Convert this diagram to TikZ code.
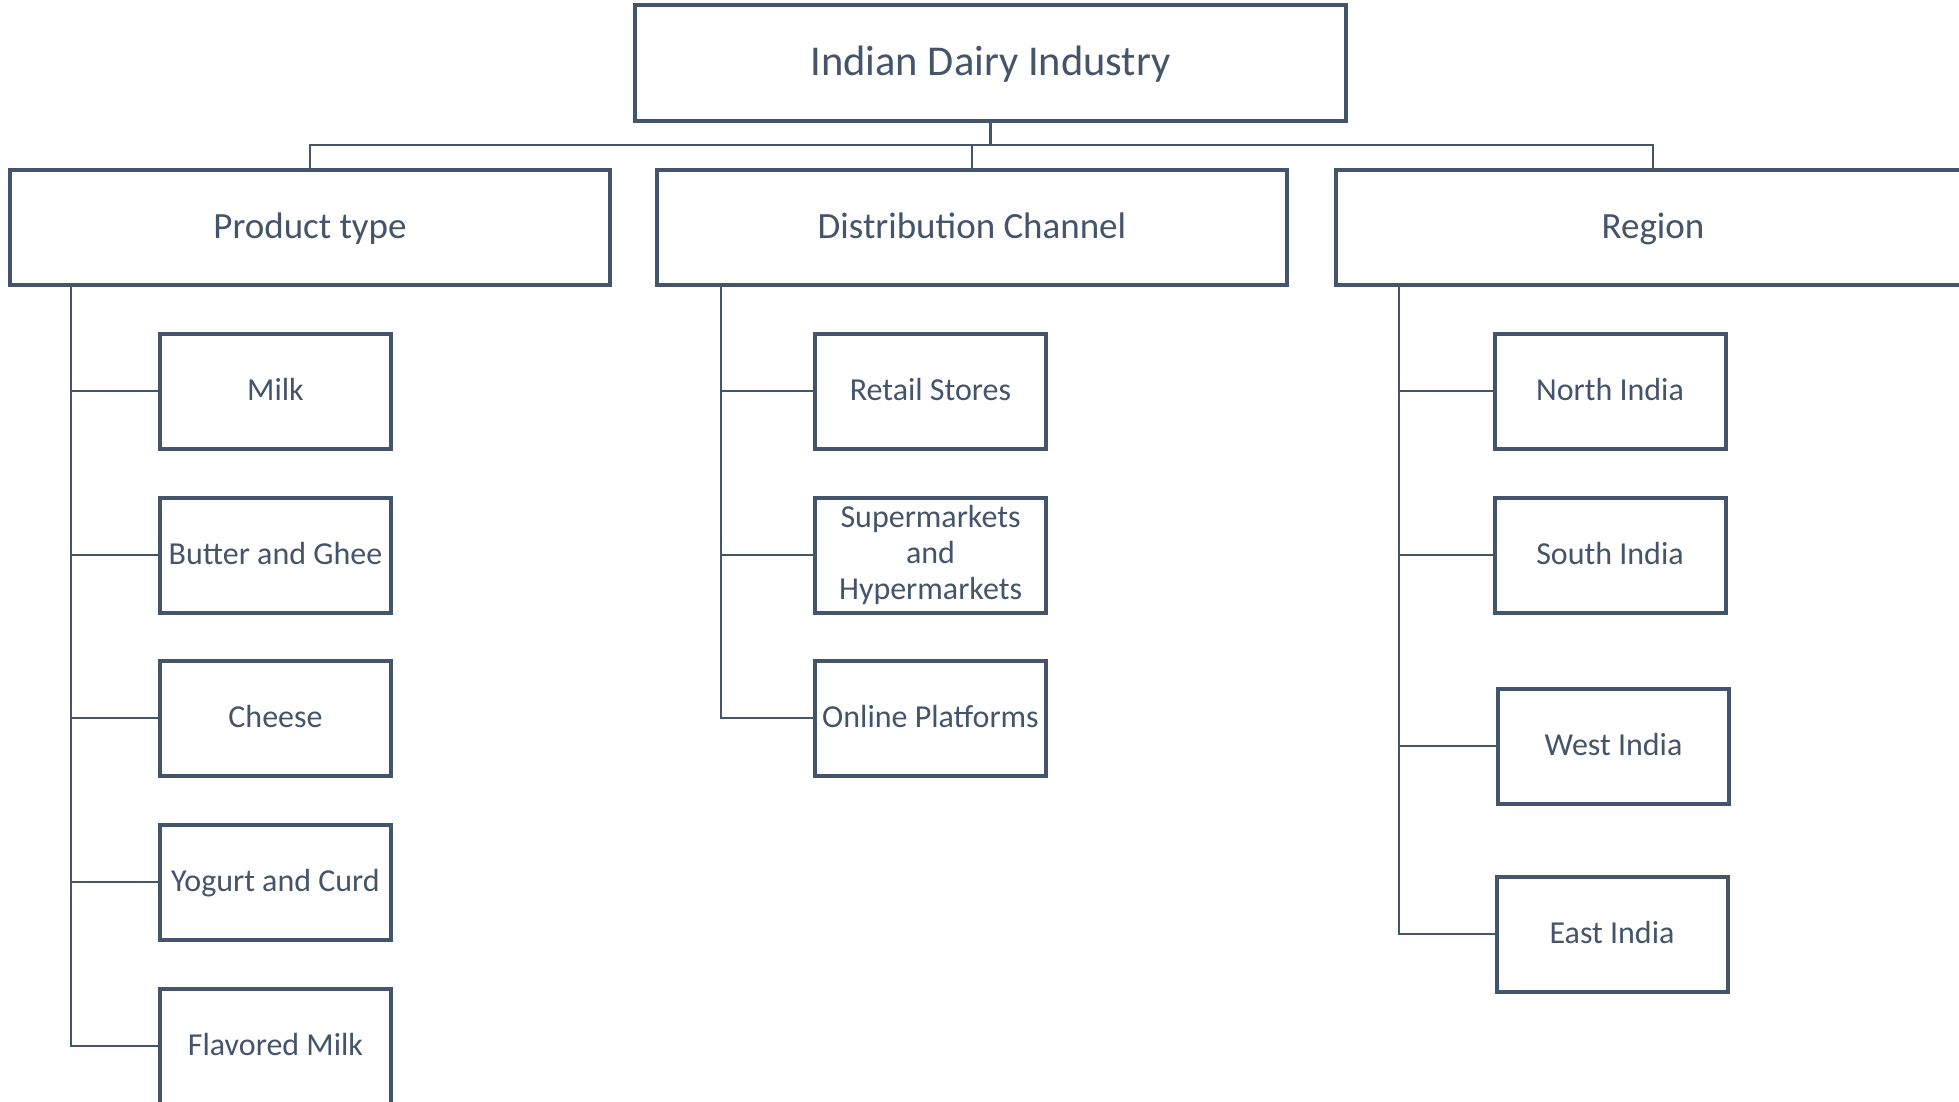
\documentclass[tikz,border=0pt]{standalone}
\usepackage{fontspec}
\setmainfont{Carlito}
\definecolor{slate}{HTML}{44546A}
\begin{document}
\begin{tikzpicture}[x=1pt,y=-1pt,
  box/.style={draw=slate, line width=4pt, fill=white, text=slate, inner sep=0pt},
  topbox/.style={box, text height=34pt, text depth=8.5pt, minimum width=711pt, minimum height=116pt, font=\fontsize{42.5}{48}\selectfont},
  catbox/.style={box, text height=29.6pt, text depth=7.4pt, minimum height=115pt, font=\fontsize{37}{42}\selectfont},
  leafbase/.style={box, minimum width=231pt, minimum height=115pt, font=\fontsize{32}{35.6}\selectfont},
  leafbox/.style={leafbase, text height=25.6pt, text depth=6.4pt},
  conn/.style={draw=slate, line width=2.5pt}]
\useasboundingbox (0,0) rectangle (1959,1102);
\clip (0,0) rectangle (1959,1102);
\fill[white] (0,0) rectangle (1959,1102);

\coordinate (bus) at (990.5,145);
\coordinate (pv) at (71,287);
\coordinate (dv) at (721,287);
\coordinate (rv) at (1399,287);

\node[topbox] (top) at (990.5,63) {Indian Dairy Industry};

\node[catbox, minimum width=600pt] (prod) at (310,227.5) {Product type};
\node[catbox, minimum width=630pt] (dist) at (972,227.5) {Distribution Channel};
\node[catbox, minimum width=635pt] (reg) at (1653,227.5) {Region};

\node[leafbox] (milk) at (275.5,391) {Milk};
\node[leafbox] (butter) at (275.5,555) {Butter and Ghee};
\node[leafbox] (cheese) at (275.5,718) {Cheese};
\node[leafbox] (yogurt) at (275.5,882) {Yogurt and Curd};
\node[leafbox] (flav) at (275.5,1046) {Flavored Milk};

\node[leafbox] (retail) at (930.5,391) {Retail Stores};
\node[leafbase, align=center] (super) at (930.5,555) {Supermarkets\\and\\Hypermarkets};
\node[leafbox] (online) at (930.5,718) {Online Platforms};

\node[leafbox] (north) at (1610,391) {North India};
\node[leafbox] (south) at (1610,555) {South India};
\node[leafbox] (west) at (1613.5,746) {West India};
\node[leafbox] (east) at (1612,934) {East India};

\draw[conn] (top.south) -- (bus);
\draw[conn] (bus) -| (prod.north);
\draw[conn] (bus) -| (dist.north);
\draw[conn] (bus) -| (reg.north);

\draw[conn] (pv) |- (milk.west);
\draw[conn] (pv) |- (butter.west);
\draw[conn] (pv) |- (cheese.west);
\draw[conn] (pv) |- (yogurt.west);
\draw[conn] (pv) |- (flav.west);

\draw[conn] (dv) |- (retail.west);
\draw[conn] (dv) |- (super.west);
\draw[conn] (dv) |- (online.west);

\draw[conn] (rv) |- (north.west);
\draw[conn] (rv) |- (south.west);
\draw[conn] (rv) |- (west.west);
\draw[conn] (rv) |- (east.west);
\end{tikzpicture}
\end{document}
